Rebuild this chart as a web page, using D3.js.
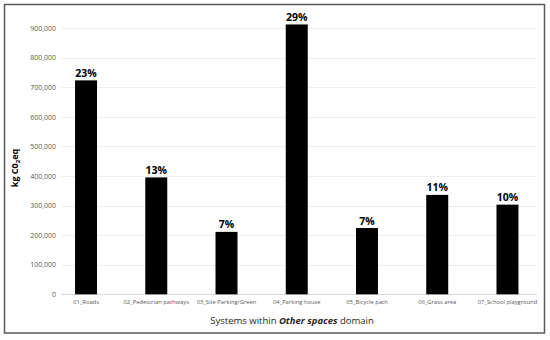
<!DOCTYPE html>
<html>
<head>
<meta charset="utf-8">
<script src="https://cdn.jsdelivr.net/npm/d3@7"></script>
<style>
  body { margin: 0; background: #fff; }
  svg { font-family: "Open Sans", sans-serif; }
</style>
</head>
<body>
<div id="chart"></div>
<script>
// bar chart: emissions per system, Other spaces domain

var categories = ["01_Roads", "02_Pedestrian pathways", "03_Site Parking/Green",
                  "04_Parking house", "05_Bicycle path", "06_Grass area", "07_School playground"];
var values = [723000, 395000, 211000, 912000, 224000, 336000, 303000];
var shares = ["23%", "13%", "7%", "29%", "7%", "11%", "10%"];
var yTicks = [0, 100000, 200000, 300000, 400000, 500000, 600000, 700000, 800000, 900000];

var width = 550, height = 340;

var svg = d3.select("#chart").append("svg")
  .attr("width", width)
  .attr("height", height);

// frame
svg.append("rect")
  .attr("x", 4.5).attr("y", 4.5)
  .attr("width", 540).attr("height", 328.5)
  .attr("fill", "#fff")
  .attr("stroke", "#595959")
  .attr("stroke-width", 1.5);

var y = d3.scaleLinear()
  .domain([0, 900000])
  .range([294.3, 28]);

var x = d3.scaleBand()
  .domain(categories)
  .range([50.9, 542.6])
  .paddingInner(0.687)
  .paddingOuter(0.3435);

var gridLeft = 61, gridRight = 537;

// gridlines
svg.append("g")
  .selectAll("line")
  .data(yTicks)
  .enter().append("line")
    .attr("x1", gridLeft)
    .attr("x2", gridRight)
    .attr("y1", function(d) { return Math.round(y(d)) + 0.5; })
    .attr("y2", function(d) { return Math.round(y(d)) + 0.5; })
    .attr("stroke", function(d) { return d == 0 ? "#d9d9d9" : "#eeeeee"; })
    .attr("stroke-width", 1);

// y axis labels
var yAxis = svg.append("g")
  .attr("transform", "translate(56,0)")
  .call(d3.axisLeft(y)
    .tickValues(yTicks)
    .tickSize(0)
    .tickPadding(0)
    .tickFormat(d3.format(",")));
yAxis.select(".domain").remove();
yAxis.selectAll("text")
  .attr("font-family", "Open Sans, sans-serif")
  .attr("font-size", 7)
  .attr("fill", "#595959");

// bars
svg.append("g")
  .selectAll("rect")
  .data(values)
  .enter().append("rect")
    .attr("x", function(d, i) { return x(categories[i]); })
    .attr("y", function(d) { return y(d); })
    .attr("width", x.bandwidth())
    .attr("height", function(d) { return y(0) - y(d); })
    .attr("fill", "#000");

// percent labels
svg.append("g")
  .selectAll("text")
  .data(values)
  .enter().append("text")
    .attr("x", function(d, i) { return x(categories[i]) + x.bandwidth() / 2; })
    .attr("y", function(d) { return y(d) - 3.5; })
    .attr("text-anchor", "middle")
    .attr("font-size", 10.5)
    .attr("font-weight", "bold")
    .attr("fill", "#000")
    .text(function(d, i) { return shares[i]; });

// x axis labels
var xAxis = svg.append("g")
  .attr("transform", "translate(0,300)")
  .call(d3.axisBottom(x).tickSize(0).tickPadding(0));
xAxis.select(".domain").remove();
xAxis.selectAll("text")
  .attr("font-family", "Open Sans, sans-serif")
  .attr("font-size", 5.8)
  .attr("fill", "#595959");

// y title
var yTitle = svg.append("text")
  .attr("transform", "translate(18,168) rotate(-90)")
  .attr("text-anchor", "middle")
  .attr("font-size", 9)
  .attr("font-weight", "bold")
  .attr("fill", "#000");
yTitle.append("tspan").text("kg C0");
yTitle.append("tspan").attr("font-size", 6).attr("dy", 2).text("2");
yTitle.append("tspan").attr("dy", -2).text("eq");

// x title
var xTitle = svg.append("text")
  .attr("x", 292)
  .attr("y", 324)
  .attr("text-anchor", "middle")
  .attr("font-size", 9.5)
  .attr("fill", "#262626");
xTitle.append("tspan").text("Systems within ");
xTitle.append("tspan").attr("font-weight", "bold").attr("font-style", "italic").text("Other spaces");
xTitle.append("tspan").text(" domain");
</script>
</body>
</html>
